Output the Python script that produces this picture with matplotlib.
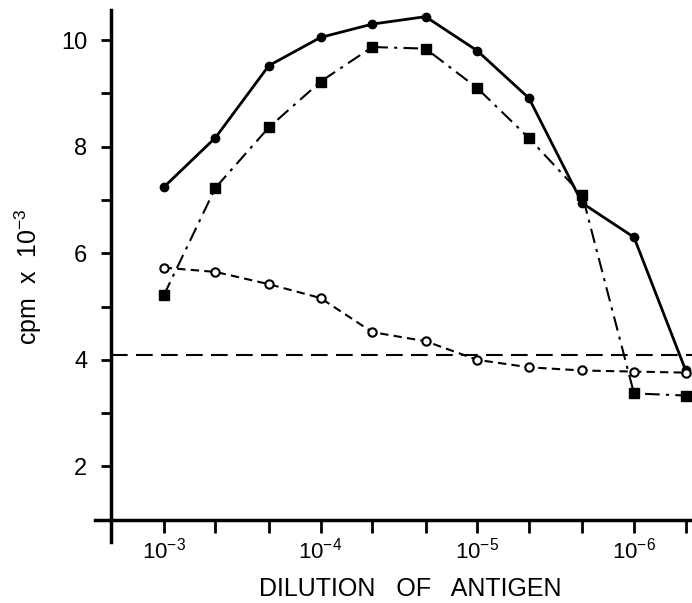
import matplotlib.pyplot as plt
from matplotlib.ticker import FixedLocator, NullFormatter

# dilution exponents (10^-x), equally spaced steps on the original
dilution_exp = [3.0, 3.33, 3.67, 4.0, 4.33, 4.67, 5.0, 5.33, 5.67, 6.0, 6.33]
solid_circles = [7.24, 8.17, 9.52, 10.05, 10.30, 10.44, 9.80, 8.91, 6.94, 6.30, 3.80]
filled_squares = [5.21, 7.23, 8.36, 9.22, 9.87, 9.84, 9.10, 8.16, 7.09, 3.37, 3.33]
open_circles = [5.73, 5.65, 5.42, 5.16, 4.52, 4.35, 4.00, 3.86, 3.80, 3.78, 3.76]
background = 4.09

major_x = [3, 4, 5, 6]
major_x_labels = ['10$^{-3}$', '10$^{-4}$', '10$^{-5}$', '10$^{-6}$']
major_y = [2, 4, 6, 8, 10]
minor_y = [3, 5, 7, 9]

plt.rcParams['font.family'] = ['Liberation Sans', 'DejaVu Sans']
plt.rcParams['mathtext.fontset'] = 'custom'
plt.rcParams['mathtext.rm'] = 'Liberation Sans'

fig = plt.figure(figsize=(6.92, 6.03), dpi=100)
ax = fig.add_axes([0.137, 0.101, 0.863, 0.882])

ax.plot(dilution_exp, solid_circles, color='black', lw=2.0, marker='o', ms=6, zorder=3)
ax.plot(dilution_exp, filled_squares, color='black', lw=1.5, ls=(0, (7, 3, 1.5, 3)),
        marker='s', ms=7, zorder=3)
ax.plot(dilution_exp, open_circles, color='black', lw=1.5, ls=(0, (4, 2.5)),
        marker='o', ms=6, mfc='white', mew=1.5, zorder=3)
ax.axhline(background, xmin=0.027, color='black', lw=1.5, ls=(0, (8, 4)), zorder=2)

ax.set_xlim(2.56, 6.37)
ax.set_ylim(0.58, 10.56)
ax.spines['top'].set_visible(False)
ax.spines['right'].set_visible(False)
ax.spines['left'].set_position(('data', 2.662))
ax.spines['bottom'].set_position(('data', 1.0))
ax.spines['left'].set_linewidth(2.5)
ax.spines['bottom'].set_linewidth(2.5)

ax.xaxis.set_major_locator(FixedLocator(major_x))
ax.set_xticklabels(major_x_labels)
ax.xaxis.set_minor_locator(FixedLocator([x for x in dilution_exp if x not in major_x]))
ax.xaxis.set_minor_formatter(NullFormatter())
ax.yaxis.set_major_locator(FixedLocator(major_y))
ax.yaxis.set_minor_locator(FixedLocator(minor_y))

ax.tick_params(axis='x', which='both', direction='out', length=9, width=2, labelsize=16, pad=4)
ax.tick_params(axis='y', which='both', direction='out', length=7, width=2, labelsize=17, pad=10)

ax.set_xlabel('DILUTION   OF   ANTIGEN', fontsize=18)
ax.xaxis.set_label_coords(0.528, -0.066)
ax.set_ylabel('cpm  x  10$^{-3}$', fontsize=18)
ax.yaxis.set_label_coords(-0.085, 0.5)

fig.savefig('out.png', dpi=100)
